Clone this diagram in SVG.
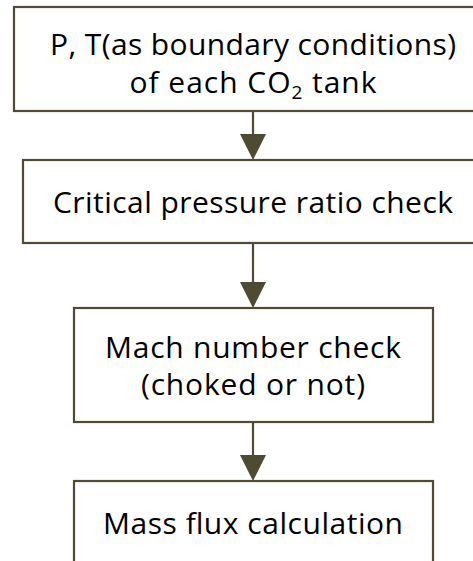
<svg xmlns="http://www.w3.org/2000/svg" width="473" height="561" viewBox="0 0 473 561">
  <style>
    .box { fill: #ffffff; stroke: #4f4a33; stroke-width: 2.2; }
    .lbl { font-family: "Open Sans", "Noto Sans", sans-serif; font-size: 30px; fill: #000000; text-anchor: middle; }
    .conn { stroke: #4f4a33; stroke-width: 2.2; fill: none; }
    .head { fill: #4f4a33; }
  </style>
  <rect width="473" height="561" fill="#ffffff"/>
  <g id="connectors">
    <line class="conn" x1="253" y1="111" x2="253" y2="140"/>
    <polygon class="head" points="240,134 266,134 253,160"/>
    <line class="conn" x1="253" y1="243" x2="253" y2="288"/>
    <polygon class="head" points="240,282 266,282 253,308"/>
    <line class="conn" x1="253" y1="422" x2="253" y2="460"/>
    <polygon class="head" points="240,455 266,455 253,481"/>
  </g>
  <g id="node1">
    <rect class="box" x="14" y="7" width="478" height="104"/>
    <text class="lbl" x="253" y="55" textLength="406">P, T(as boundary conditions)</text>
    <text class="lbl" x="253" y="93" textLength="247">of each CO<tspan font-size="19" dy="6">2</tspan><tspan dy="-6"> tank</tspan></text>
  </g>
  <g id="node2">
    <rect class="box" x="23" y="160" width="462" height="83"/>
    <text class="lbl" x="253" y="213" textLength="400">Critical pressure ratio check</text>
  </g>
  <g id="node3">
    <rect class="box" x="74" y="308" width="359" height="114"/>
    <text class="lbl" x="253" y="358" textLength="296">Mach number check</text>
    <text class="lbl" x="253" y="395" textLength="224">(choked or not)</text>
  </g>
  <g id="node4">
    <rect class="box" x="74" y="481" width="359" height="100"/>
    <text class="lbl" x="253" y="534" textLength="300">Mass flux calculation</text>
  </g>
</svg>
